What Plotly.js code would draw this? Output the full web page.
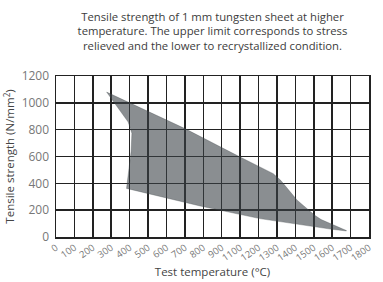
<!DOCTYPE html>
<html>
<head>
<meta charset="utf-8">
<script src="https://cdn.plot.ly/plotly-3.0.1.min.js"></script>
<style>html,body{margin:0;padding:0;background:#fff;}#chart{width:383px;height:282px;}</style>
</head>
<body>
<div id="chart"></div>
<script>
// Tick labels as printed on the reference (note: no 1000)
const xTickLabels = ['0','100','200','300','400','500','600','700','800','900','1100','1200','1300','1400','1500','1600','1700','1800'];
const yTickValues = [0, 200, 400, 600, 800, 1000, 1200];

// Band boundary, x given in grid-column units of the printed axis
const upperX = [2.75, 4.0, 7.0, 10.0, 11.8, 12.2, 13.1, 14.05, 14.4, 15.77];
const upperY = [1080, 1000, 808, 596, 472, 423, 274, 162, 130, 48];
const lowerX = [15.77, 15.0, 14.1, 11.07, 7.83, 3.83];
const lowerY = [45, 57, 75, 137, 231, 362];
const leftX  = [3.83, 4.08, 4.12, 3.92, 2.75];
const leftY  = [362, 640, 773, 857, 1080];

const polyX = upperX.concat(lowerX, leftX);
const polyY = upperY.concat(lowerY, leftY);

const tickPositions = xTickLabels.map((_, i) => i);

const trace = {
  x: polyX, y: polyY, type: 'scatter', mode: 'lines',
  fill: 'toself', fillcolor: 'rgba(60,66,72,0.6)',
  line: {width: 0.5, color: 'rgba(60,66,72,0.6)'},
  hoverinfo: 'skip', showlegend: false
};

const fontFam = '"Open Sans", Lato, sans-serif';
const layout = {
  width: 383, height: 282,
  margin: {l: 56, r: 14, t: 76, b: 45},
  paper_bgcolor: '#fff', plot_bgcolor: '#fff',
  font: {family: fontFam, color: '#666'},
  title: {
    text: 'Tensile strength of 1 mm tungsten sheet at higher<br>temperature. The upper limit corresponds to stress<br>relieved and the lower to recrystallized condition.',
    font: {size: 11.3, color: '#3c3c3c', family: fontFam},
    xref: 'paper', x: 0.5, xanchor: 'center',
    yref: 'container', y: 0.927, yanchor: 'middle'
  },
  xaxis: {
    range: [0, 17], tickvals: tickPositions, ticktext: xTickLabels,
    tickangle: -35, tickfont: {size: 9.5, color: '#777'},
    showgrid: true, gridcolor: '#222', gridwidth: 1.5,
    showline: true, linecolor: '#222', linewidth: 1.5, mirror: true,
    zeroline: false, ticks: '', fixedrange: true,
    title: {text: 'Test temperature (°C)', font: {size: 11.5, color: '#444'}, standoff: 5}
  },
  yaxis: {
    range: [0, 1200], tickvals: yTickValues,
    tickfont: {size: 12, color: '#777'},
    showgrid: true, gridcolor: '#222', gridwidth: 1.5,
    showline: true, linecolor: '#222', linewidth: 1.5, mirror: true,
    zeroline: false, ticks: '', ticklabelstandoff: 3,
    title: {text: 'Tensile strength (N/mm<sup>2</sup>)', font: {size: 11.5, color: '#444'}, standoff: 4}
  }
};

Plotly.newPlot('chart', [trace], layout, {staticPlot: true, displayModeBar: false});
</script>
</body>
</html>
